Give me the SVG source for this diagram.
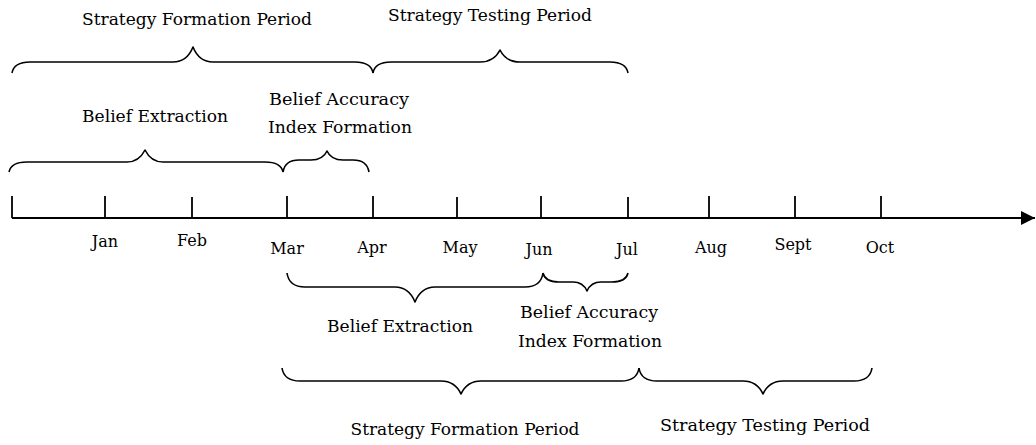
<svg xmlns="http://www.w3.org/2000/svg" width="1036" height="445" viewBox="0 0 1036 445">
<defs>
<style>
.t{font-family:"DejaVu Serif","Liberation Serif",serif;font-size:16px;fill:#000;text-anchor:middle}
.br{fill:none;stroke:#000;stroke-width:1.6;stroke-linejoin:round}
.ax{fill:none;stroke:#000;stroke-width:1.8}
</style>
<marker id="arr" markerUnits="userSpaceOnUse" markerWidth="16" markerHeight="16" refX="14" refY="7" orient="auto">
<path d="M0,0 L14,7 L0,14 Z" fill="#000"/>
</marker>
</defs>
<rect width="1036" height="445" fill="#fff"/>
<g id="connectors">
<g id="axis">
<line class="ax" x1="12" y1="218" x2="1035" y2="218" marker-end="url(#arr)"/>
<line class="ax" x1="12" y1="196" x2="12" y2="218"/>
<line class="ax" x1="105" y1="196" x2="105" y2="218"/>
<line class="ax" x1="192" y1="197" x2="192" y2="218"/>
<line class="ax" x1="287" y1="196" x2="287" y2="218"/>
<line class="ax" x1="373" y1="196" x2="373" y2="218"/>
<line class="ax" x1="457" y1="197" x2="457" y2="218"/>
<line class="ax" x1="541" y1="196" x2="541" y2="218"/>
<line class="ax" x1="628" y1="197" x2="628" y2="218"/>
<line class="ax" x1="709" y1="196" x2="709" y2="218"/>
<line class="ax" x1="795" y1="196" x2="795" y2="218"/>
<line class="ax" x1="881" y1="196" x2="881" y2="218"/>
</g>
</g>
<g id="months">
<text class="t" x="105" y="247">Jan</text>
<text class="t" x="192" y="246">Feb</text>
<text class="t" x="287" y="254">Mar</text>
<text class="t" x="372" y="253">Apr</text>
<text class="t" x="460" y="253">May</text>
<text class="t" x="539" y="255">Jun</text>
<text class="t" x="627" y="255">Jul</text>
<text class="t" x="711" y="253">Aug</text>
<text class="t" x="793" y="250">Sept</text>
<text class="t" x="880" y="253">Oct</text>
</g>
<g id="top-strategy-formation">
<path class="br" d="M12,73 Q14,62 30,62 L173,62 Q187,62 193,47 Q199,62 213,62 L355,62 Q371,62 373,73"/>
<text class="t" x="197" y="25" textLength="230" lengthAdjust="spacingAndGlyphs">Strategy Formation Period</text>
</g>
<g id="top-strategy-testing">
<path class="br" d="M373,73 Q375,62 391,62 L480,62 Q494,62 500,50 Q506,62 520,62 L610,62 Q626,62 628,73"/>
<text class="t" x="490" y="21" textLength="204" lengthAdjust="spacingAndGlyphs">Strategy Testing Period</text>
</g>
<g id="top-belief-extraction">
<path class="br" d="M9,172 Q11,162 27,162 L127,162 Q139,162 145,150 Q151,162 163,162 L265,162 Q281,162 283,172"/>
<text class="t" x="155" y="122" textLength="146" lengthAdjust="spacingAndGlyphs">Belief Extraction</text>
</g>
<g id="top-belief-accuracy">
<path class="br" d="M283,172 Q285,160 299,160 L311,160 Q323,160 327,151 Q331,160 343,160 L353,160 Q367,160 369,172"/>
<text class="t" x="339" y="105" textLength="140" lengthAdjust="spacingAndGlyphs">Belief Accuracy</text>
<text class="t" x="340" y="133" textLength="144" lengthAdjust="spacingAndGlyphs">Index Formation</text>
</g>
<g id="bottom-belief-extraction">
<path class="br" d="M287,273 Q289,287 305,287 L395,287 Q409,287 415,302 Q421,287 435,287 L525,287 Q541,287 543,273"/>
<text class="t" x="400" y="332" textLength="146" lengthAdjust="spacingAndGlyphs">Belief Extraction</text>
</g>
<g id="bottom-belief-accuracy">
<path class="br" d="M543,273 Q545,282 559,282 L573,282 Q583,282 587,291 Q591,282 601,282 L612,282 Q626,282 628,273"/>
<text class="t" x="589" y="318" textLength="138" lengthAdjust="spacingAndGlyphs">Belief Accuracy</text>
<text class="t" x="590" y="347" textLength="144" lengthAdjust="spacingAndGlyphs">Index Formation</text>
</g>
<g id="bottom-strategy-formation">
<path class="br" d="M282,368 Q284,381 300,381 L441,381 Q455,381 461,394 Q467,381 481,381 L621,381 Q637,381 639,368"/>
<text class="t" x="465" y="435" textLength="229" lengthAdjust="spacingAndGlyphs">Strategy Formation Period</text>
</g>
<g id="bottom-strategy-testing">
<path class="br" d="M639,368 Q641,381 657,381 L743,381 Q757,381 763,394 Q769,381 783,381 L854,381 Q870,381 872,368"/>
<text class="t" x="765" y="431" textLength="210" lengthAdjust="spacingAndGlyphs">Strategy Testing Period</text>
</g>
</svg>
